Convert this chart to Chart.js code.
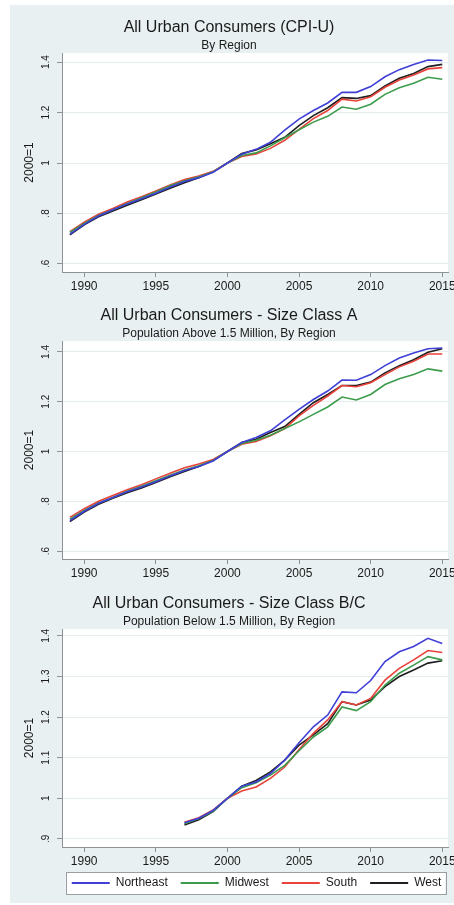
<!DOCTYPE html>
<html><head><meta charset="utf-8">
<script src="https://cdn.jsdelivr.net/npm/chart.js@4.4.1/dist/chart.umd.min.js"></script>
<style>
html,body{margin:0;padding:0;background:#fff;overflow:hidden;}
#panel{position:absolute;left:10px;top:5px;width:444px;height:898px;background:#e9f0f2;}
canvas{position:absolute;left:10px;}
</style></head><body>
<div id="panel"></div>
<canvas id="c1" width="444" height="290" style="top:5px"></canvas>
<canvas id="c2" width="444" height="289" style="top:293px"></canvas>
<canvas id="c3" width="444" height="324" style="top:581px"></canvas>
<script>
// ---------- data ----------
const years = [1989,1990,1991,1992,1993,1994,1995,1996,1997,1998,1999,2000,2001,2002,2003,2004,2005,2006,2007,2008,2009,2010,2011,2012,2013,2014,2015];
const xTicks = [1990,1995,2000,2005,2010,2015];
const regions = ['Northeast','Midwest','South','West'];

const yTicksAB = [0.6,0.8,1,1.2,1.4];
const yLabelsAB = ['.6','.8','1','1.2','1.4'];
const yTicksBC = [0.9,1,1.1,1.2,1.3,1.4];
const yLabelsBC = ['.9','1','1.1','1.2','1.3','1.4'];

// All Urban Consumers (CPI-U), by region (2000=1)
const allNortheast = [0.718,0.757,0.790,0.815,0.838,0.858,0.880,0.905,0.927,0.942,0.963,1.000,1.035,1.054,1.082,1.130,1.174,1.208,1.238,1.280,1.280,1.303,1.342,1.370,1.390,1.408,1.406];
const allMidwest   = [0.725,0.760,0.792,0.815,0.840,0.862,0.885,0.910,0.930,0.945,0.965,1.000,1.030,1.040,1.068,1.100,1.132,1.162,1.185,1.222,1.213,1.233,1.272,1.298,1.316,1.340,1.332];
const allSouth     = [0.728,0.765,0.797,0.820,0.845,0.866,0.889,0.913,0.935,0.948,0.967,1.000,1.026,1.036,1.058,1.090,1.133,1.176,1.208,1.253,1.246,1.263,1.300,1.329,1.349,1.373,1.378];
const allWest      = [0.715,0.755,0.787,0.810,0.833,0.854,0.877,0.900,0.922,0.942,0.965,1.000,1.038,1.052,1.076,1.102,1.148,1.188,1.219,1.259,1.256,1.267,1.305,1.336,1.355,1.382,1.391];

// Size Class A (population above 1.5 million)
const aNortheast = [0.722,0.760,0.792,0.815,0.838,0.857,0.878,0.902,0.924,0.940,0.962,1.000,1.036,1.056,1.083,1.127,1.169,1.209,1.243,1.287,1.286,1.309,1.345,1.376,1.396,1.413,1.416];
const aMidwest   = [0.728,0.763,0.793,0.815,0.840,0.860,0.882,0.905,0.926,0.943,0.964,1.000,1.032,1.045,1.065,1.092,1.119,1.149,1.179,1.219,1.207,1.229,1.269,1.292,1.309,1.332,1.323];
const aSouth     = [0.735,0.770,0.800,0.823,0.846,0.866,0.890,0.913,0.935,0.950,0.968,1.000,1.029,1.040,1.063,1.092,1.143,1.185,1.223,1.265,1.260,1.276,1.309,1.340,1.363,1.392,1.392];
const aWest      = [0.718,0.757,0.788,0.812,0.834,0.853,0.875,0.898,0.920,0.940,0.965,1.000,1.036,1.049,1.076,1.100,1.149,1.196,1.229,1.265,1.265,1.279,1.316,1.345,1.369,1.399,1.413];

// Size Class B/C (population below 1.5 million), series begins 1997
const bcNortheast = [null,null,null,null,null,null,null,null,0.940,0.951,0.970,1.000,1.030,1.040,1.061,1.094,1.137,1.176,1.205,1.262,1.260,1.290,1.337,1.361,1.374,1.394,1.381];
const bcMidwest   = [null,null,null,null,null,null,null,null,0.937,0.950,0.968,1.000,1.026,1.038,1.057,1.081,1.117,1.151,1.176,1.225,1.216,1.238,1.279,1.308,1.328,1.349,1.341];
const bcSouth     = [null,null,null,null,null,null,null,null,0.941,0.952,0.971,1.000,1.018,1.028,1.049,1.077,1.120,1.160,1.193,1.238,1.230,1.246,1.291,1.320,1.341,1.364,1.359];
const bcWest      = [null,null,null,null,null,null,null,null,0.934,0.947,0.967,1.000,1.030,1.044,1.065,1.094,1.131,1.156,1.184,1.238,1.230,1.242,1.275,1.300,1.316,1.333,1.339];

// ---------- styling ----------
const FONT = '"Liberation Sans", Arial, "DejaVu Sans", sans-serif';
const lineColors = ['#3f3fd6','#3c9c4c','#e8423a','#1e1e1e'];
const axisGray = '#8d9296';
const gridColor = '#e4ecef';

const plotBg = {
  id: 'plotBg',
  beforeDraw(chart) {
    const {ctx, chartArea: a} = chart;
    ctx.save();
    ctx.fillStyle = '#ffffff';
    ctx.fillRect(a.left, a.top, a.right - a.left, a.bottom - a.top);
    ctx.restore();
  }
};

// centre the legend row under the plot region and pull it up close to the axis (Stata-style)
const legendShift = {
  id: 'legendShift',
  afterLayout(chart) {
    const lg = chart.legend;
    if (!lg || !lg.options.display || !lg.lineWidths || !lg.lineWidths.length) return;
    const pad = lg.options.labels.padding;
    const W = lg.lineWidths[0];
    const start = (lg.left + pad + lg.right - W) / 2;
    const cur = start + (W - pad) / 2;
    const want = (chart.chartArea.left + chart.chartArea.right) / 2 + 1.5;
    const dx = want - cur;
    lg.left += dx; lg.right += dx;
    const dy = (chart.chartArea.bottom + 17) - lg.top;
    lg.top += dy; lg.bottom += dy;
  }
};

const legendFrame = {
  id: 'legendFrame',
  beforeDraw(chart) {
    const lg = chart.legend;
    if (!lg || !lg.options.display || !lg.legendHitBoxes.length) return;
    const hb = lg.legendHitBoxes;
    const last = hb[hb.length - 1];
    const l = hb[0].left - 6, r = last.left + last.width + 4;
    const t = hb[0].top - 5, b = hb[0].top + hb[0].height + 5;
    const ctx = chart.ctx;
    ctx.save();
    ctx.fillStyle = '#ffffff';
    ctx.fillRect(l, t, r - l, b - t);
    ctx.strokeStyle = '#9a9ea2';
    ctx.lineWidth = 1;
    ctx.strokeRect(Math.round(l) + 0.5, Math.round(t) + 0.5, Math.round(r - l), Math.round(b - t));
    ctx.restore();
  }
};

function makeChart(id, title, subtitle, series, yMin, yMax, yTicks, yLabels, showLegend) {
  const datasets = series.map((vals, i) => ({
    label: regions[i],
    data: years.map((yr, k) => ({x: yr, y: vals[k]})),
    borderColor: lineColors[i],
    backgroundColor: lineColors[i],
    borderWidth: 1.6,
    pointRadius: 0,
    tension: 0,
    fill: false
  }));
  return new Chart(document.getElementById(id), {
    type: 'line',
    data: {datasets},
    plugins: [plotBg, legendShift, legendFrame],
    options: {
      responsive: false,
      animation: false,
      layout: {padding: {left: 0, right: 6, top: 0, bottom: 0}},
      plugins: {
        title: {display: true, text: title, color: '#1a1a1a',
          font: {family: FONT, size: 16, weight: 'normal', lineHeight: 1.2},
          padding: {top: 13, bottom: 0}},
        subtitle: {display: true, text: subtitle, color: '#1a1a1a',
          font: {family: FONT, size: 12, weight: 'normal', lineHeight: 1.2},
          padding: {top: 1, bottom: 0.4}},
        tooltip: {enabled: false},
        legend: {
          display: showLegend,
          position: 'bottom',
          fullSize: true,
          labels: {
            font: {family: FONT, size: 12},
            color: '#1a1a1a',
            boxWidth: 38,
            boxHeight: 2,
            padding: 13,
            generateLabels: (chart) => Chart.defaults.plugins.legend.labels.generateLabels(chart)
              .map(l => Object.assign(l, {fillStyle: l.strokeStyle, lineWidth: 0}))
          }
        }
      },
      scales: {
        x: {
          type: 'linear',
          min: 1988.45, max: 2015.4,
          afterBuildTicks: (s) => { s.ticks = xTicks.map(v => ({value: v})); },
          afterFit: (s) => { s.height = 23; s.paddingLeft = 0; s.paddingRight = 0; },
          grid: {drawOnChartArea: false, drawTicks: true, tickLength: 5, tickColor: axisGray, color: axisGray},
          border: {display: true, color: axisGray, width: 1},
          ticks: {color: '#1a1a1a', padding: 2, maxRotation: 0, minRotation: 0,
            font: {family: FONT, size: 12},
            callback: (v) => String(v)}
        },
        y: {
          min: yMin, max: yMax,
          afterBuildTicks: (s) => { s.ticks = yTicks.map(v => ({value: v})); },
          afterFit: (s) => { s.width = 52; },
          grid: {color: gridColor, lineWidth: 1, drawTicks: true, tickLength: 5, tickColor: axisGray},
          border: {display: true, color: axisGray, width: 1},
          title: {display: true, text: '2000=1', color: '#1a1a1a',
            font: {family: FONT, size: 12}, padding: {top: 12, bottom: 0}},
          ticks: {color: '#1a1a1a', padding: 4, minRotation: 90, maxRotation: 90, crossAlign: 'center',
            font: {family: FONT, size: 10},
            callback: (v) => { const i = yTicks.findIndex(t => Math.abs(t - v) < 1e-9); return i >= 0 ? yLabels[i] : ''; }}
        }
      }
    }
  });
}

makeChart('c1', 'All Urban Consumers (CPI-U)', 'By Region',
  [allNortheast, allMidwest, allSouth, allWest], 0.568, 1.436, yTicksAB, yLabelsAB, false);
makeChart('c2', 'All Urban Consumers - Size Class A', 'Population Above 1.5 Million, By Region',
  [aNortheast, aMidwest, aSouth, aWest], 0.568, 1.444, yTicksAB, yLabelsAB, false);
makeChart('c3', 'All Urban Consumers - Size Class B/C', 'Population Below 1.5 Million, By Region',
  [bcNortheast, bcMidwest, bcSouth, bcWest], 0.88, 1.417, yTicksBC, yLabelsBC, true);
</script>
</body></html>
